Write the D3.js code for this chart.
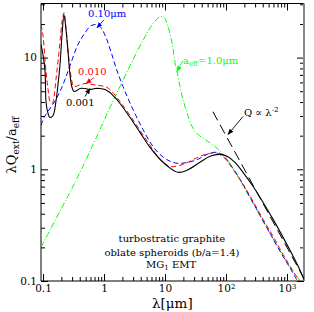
<!DOCTYPE html>
<html>
<head>
<meta charset="utf-8">
<script src="https://cdn.jsdelivr.net/npm/d3@7"></script>
<style>
	body { margin: 0; background: #fff; }
	svg { display: block; }
	text { font-family: "DejaVu Serif", serif; }
</style>
</head>
<body>
<div id="chart"></div>
<script>

// extinction curves, [lambda (um), lambda*Qext/aeff]
var a001 = [
	[0.093, 13.1], [0.100, 10.6], [0.108, 7.5], [0.112, 4.05], [0.121, 3.16], [0.130, 2.91],
	[0.146, 3.03], [0.163, 4.05], [0.176, 5.74], [0.190, 8.66], [0.205, 16.0], [0.221, 24.2],
	[0.238, 17.8], [0.257, 11.3], [0.277, 7.05], [0.299, 5.40], [0.322, 4.97], [0.361, 5.08],
	[0.404, 5.29], [0.489, 5.29], [0.589, 5.18], [0.712, 5.29], [0.860, 5.29], [1.04, 5.18],
	[1.25, 4.87], [1.51, 4.40], [1.83, 3.88], [2.67, 2.91], [3.89, 2.14], [5.68, 1.57],
	[8.28, 1.23], [11.2, 1.06], [16.3, 0.94], [22.9, 0.98], [37.5, 1.155], [54.7, 1.31],
	[79.7, 1.36], [104, 1.31], [140, 1.155], [190, 0.94], [277, 0.705], [404, 0.507],
	[589, 0.358], [859, 0.247], [1254, 0.167], [1633, 0.125], [1950, 0.100]
];

var a010 = [
	[0.093, 19.7], [0.100, 15.7], [0.112, 7.5], [0.121, 5.18], [0.130, 4.05], [0.141, 3.88],
	[0.151, 4.40], [0.163, 6.36], [0.176, 9.2], [0.190, 13.9], [0.205, 20.9], [0.221, 25.2],
	[0.238, 18.5], [0.257, 11.8], [0.277, 7.8], [0.299, 6.1], [0.322, 5.5], [0.375, 5.62],
	[0.489, 5.86], [0.636, 5.74], [0.860, 5.62], [1.12, 5.40], [1.35, 4.97], [1.83, 4.05],
	[2.67, 3.03], [3.89, 2.23], [5.68, 1.64], [8.28, 1.23], [12.1, 1.06], [17.6, 1.085],
	[25.7, 1.18], [37.5, 1.31], [54.7, 1.39], [71.2, 1.39], [96.3, 1.25], [130, 1.0],
	[190, 0.735], [277, 0.518], [404, 0.358], [589, 0.252], [859, 0.174], [1254, 0.123],
	[1633, 0.098]
];

var a10 = [
	[0.093, 2.47], [0.104, 2.91], [0.121, 3.30], [0.141, 3.73], [0.163, 4.22], [0.190, 4.97],
	[0.229, 6.36], [0.288, 9.0], [0.375, 13.1], [0.489, 16.7], [0.612, 19.3], [0.768, 19.7],
	[0.893, 18.5], [1.08, 15.1], [1.30, 11.3], [1.57, 8.14], [2.05, 5.51], [2.99, 3.43],
	[4.36, 2.27], [6.36, 1.60], [8.93, 1.31], [12.1, 1.18], [16.3, 1.13], [23.8, 1.155],
	[34.7, 1.23], [48.8, 1.36], [66.0, 1.42], [86, 1.36], [116, 1.11], [170, 0.814],
	[247, 0.562], [361, 0.388], [526, 0.268], [768, 0.185], [1120, 0.131], [1514, 0.098]
];

var a1 = [
	[0.093, 0.201], [0.130, 0.285], [0.190, 0.422], [0.277, 0.623], [0.404, 0.94], [0.589, 1.45],
	[0.860, 2.27], [1.25, 3.58], [1.83, 5.51], [2.99, 9.6], [4.70, 15.4], [6.36, 20.1],
	[8.28, 23.2], [9.64, 22.8], [11.2, 18.9], [13.0, 13.6], [14.6, 9.0], [15.7, 7.5],
	[17.6, 5.51], [19.7, 4.22], [22.9, 3.23], [27.7, 2.42], [34.7, 2.05], [45.3, 1.85],
	[66, 1.60], [96.3, 1.31], [125, 1.06], [157, 0.866], [229, 0.598], [335, 0.413],
	[489, 0.285], [711, 0.201], [1038, 0.142], [1700, 0.098]
];

// Q ~ lambda^-2 reference line
var qLine = [[61, 3.28], [2000, 0.1]];

var xMajor = [0.1, 1, 10, 100, 1000];
var xLabels = ["0.1", "1", "10", "10|2", "10|3"];
var yMajor = [0.1, 1, 10];
var yLabels = ["0.1", "1", "10"];

var W = 314, H = 312;
var margin = { top: 3.5, right: 10, bottom: 31, left: 41 };
var w = W - margin.left - margin.right;
var h = H - margin.top - margin.bottom;

var x = d3.scaleLog().domain([0.0927, 1900]).range([0, w]);
var y = d3.scaleLog().domain([0.1, 30.5]).range([h, 0]);

var svg = d3.select("#chart").append("svg")
	.attr("width", W)
	.attr("height", H);

var g = svg.append("g")
	.attr("transform", "translate(" + margin.left + "," + margin.top + ")");

function minorTicks(lo, hi) {
	var t = [];
	for (var e = lo; e < hi; e++) {
		for (var k = 2; k <= 9; k++) t.push(k * Math.pow(10, e));
	}
	return t;
}
var xMinor = minorTicks(-2, 4).filter(function(d) { return d > x.domain()[0] && d < x.domain()[1]; });
var yMinor = minorTicks(-1, 2).filter(function(d) { return d > y.domain()[0] && d < y.domain()[1]; });

// axes, ticks inward
function addAxis(axisFn, scale, ticks, len, tr, labelled) {
	var ax = g.append("g")
		.attr("transform", tr)
		.call(axisFn(scale).tickValues(ticks).tickSize(-len).tickPadding(4)
			.tickFormat(labelled ? null : function() { return ""; }));
	ax.select(".domain").remove();
	ax.selectAll("line").attr("stroke", "#000");
	return ax;
}

var bx = addAxis(d3.axisBottom, x, xMajor, 7, "translate(0," + h + ")", true);
addAxis(d3.axisBottom, x, xMinor, 4, "translate(0," + h + ")", false);
addAxis(d3.axisTop, x, xMajor, 7, "translate(0,0)", false);
addAxis(d3.axisTop, x, xMinor, 4, "translate(0,0)", false);
var ly = addAxis(d3.axisLeft, y, yMajor, 7, "translate(0,0)", true);
addAxis(d3.axisLeft, y, yMinor, 4, "translate(0,0)", false);
addAxis(d3.axisRight, y, yMajor, 7, "translate(" + w + ",0)", false);
addAxis(d3.axisRight, y, yMinor, 4, "translate(" + w + ",0)", false);

bx.selectAll("text")
	.style("font-family", "DejaVu Serif")
	.style("font-size", "10.5px")
	.attr("fill", "#000")
	.each(function(d, i) {
		var parts = xLabels[i].split("|");
		var t = d3.select(this).text(parts[0]);
		if (parts[1]) {
			t.append("tspan").attr("dy", "-0.5em").style("font-size", "7px").text(parts[1]);
		}
	});

ly.selectAll("text")
	.style("font-family", "DejaVu Serif")
	.style("font-size", "10.5px")
	.attr("fill", "#000")
	.text(function(d, i) { return yLabels[i]; });

// frame
g.append("line").attr("x1", 0).attr("x2", 0).attr("y1", 0).attr("y2", h).attr("stroke", "#000");
g.append("line").attr("x1", 0).attr("x2", w).attr("y1", h).attr("y2", h).attr("stroke", "#000");
g.append("line").attr("x1", 0).attr("x2", w).attr("y1", 0).attr("y2", 0).attr("stroke", "#000");
g.append("line").attr("x1", w).attr("x2", w).attr("y1", 0).attr("y2", h)
	.attr("stroke", "#888").attr("stroke-width", 2);

svg.append("defs").append("clipPath").attr("id", "clip")
	.append("rect").attr("width", w).attr("height", h);

var line = d3.line()
	.x(function(d) { return x(d[0]); })
	.y(function(d) { return y(d[1]); })
	.curve(d3.curveCatmullRom.alpha(0.5));

var plot = g.append("g").attr("clip-path", "url(#clip)");

var series = [
	{ data: a1,   color: "#00ff00", dash: "6,2,1,2", width: 1 },
	{ data: a10,  color: "#0000ff", dash: "5,3",     width: 1 },
	{ data: a010, color: "#ff0000", dash: "5,3",     width: 1 },
	{ data: a001, color: "#000",    dash: null,      width: 1.1 }
];

series.forEach(function(s) {
	plot.append("path")
		.datum(s.data)
		.attr("d", line)
		.attr("fill", "none")
		.attr("stroke", s.color)
		.attr("stroke-width", s.width)
		.attr("stroke-dasharray", s.dash);
});

plot.append("path")
	.datum(qLine)
	.attr("d", d3.line().x(function(d) { return x(d[0]); }).y(function(d) { return y(d[1]); }))
	.attr("fill", "none")
	.attr("stroke", "#000")
	.attr("stroke-width", 1)
	.attr("stroke-dasharray", "10,5");

// annotations
var defs = svg.select("defs");
["#000", "#0000ff", "#ff0000", "#00ff00"].forEach(function(c, i) {
	defs.append("marker")
		.attr("id", "arr" + i)
		.attr("viewBox", "0 0 10 10")
		.attr("refX", 9).attr("refY", 5)
		.attr("markerWidth", 6).attr("markerHeight", 6)
		.attr("markerUnits", "userSpaceOnUse")
		.attr("orient", "auto")
		.append("path").attr("d", "M0,1L10,5L0,9z").attr("fill", c);
});

var arrows = [
	{ from: [1.0, 21.8],  to: [0.768, 18.5], color: "#0000ff", m: 1 },
	{ from: [0.686, 6.63], to: [0.507, 5.86], color: "#ff0000", m: 2 },
	{ from: [0.489, 4.48], to: [0.589, 5.29], color: "#000",    m: 0 },
	{ from: [19.7, 9.4],  to: [15.7, 7.5],   color: "#00ff00", m: 3 },
	{ from: [190, 2.97],  to: [108, 2.05],   color: "#000",    m: 0 }
];

arrows.forEach(function(a) {
	g.append("line")
		.attr("x1", x(a.from[0])).attr("y1", y(a.from[1]))
		.attr("x2", x(a.to[0])).attr("y2", y(a.to[1]))
		.attr("stroke", a.color)
		.attr("stroke-width", 0.9)
		.attr("marker-end", "url(#arr" + a.m + ")");
});

function label(pos, color, anchor, size) {
	return g.append("text")
		.attr("x", x(pos[0])).attr("y", y(pos[1]))
		.attr("fill", color)
		.attr("text-anchor", anchor || "start")
		.style("font-size", (size || 10) + "px");
}

label([0.547, 23.2], "#0000ff").text("0.10\u03bcm");
label([0.375, 7.05], "#ff0000").text("0.010");
label([0.238, 3.65], "#000").text("0.001");

var ga = label([19.7, 8.84], "#00ff00");
ga.append("tspan").text("a");
ga.append("tspan").attr("dy", 2).style("font-size", "7px").text("eff");
ga.append("tspan").attr("dy", -2).text("=1.0\u03bcm");

var qa = label([197, 3.03], "#000");
qa.append("tspan").text("Q \u221d \u03bb");
qa.append("tspan").attr("dy", -4).style("font-size", "7px").text("-2");

label([13.0, 0.223], "#000", "middle").text("turbostratic graphite");
label([13.0, 0.167], "#000", "middle").text("oblate spheroids (b/a=1.4)");
var mg = label([12.6, 0.131], "#000", "middle");
mg.append("tspan").text("MG");
mg.append("tspan").attr("dy", 2).style("font-size", "7px").text("1");
mg.append("tspan").attr("dy", -2).text(" EMT");

// axis titles
svg.append("text")
	.attr("x", margin.left + x(13.2))
	.attr("y", 308)
	.attr("text-anchor", "middle")
	.style("font-size", "13.5px")
	.text("\u03bb[\u03bcm]");

var yt = svg.append("text")
	.attr("transform", "translate(16," + 145 + ") rotate(-90)")
	.attr("text-anchor", "middle")
	.style("font-size", "13px");
yt.append("tspan").text("\u03bbQ");
yt.append("tspan").attr("dy", 3).style("font-size", "9px").text("ext");
yt.append("tspan").attr("dy", -3).text("/a");
yt.append("tspan").attr("dy", 3).style("font-size", "9px").text("eff");

</script>
</body>
</html>
